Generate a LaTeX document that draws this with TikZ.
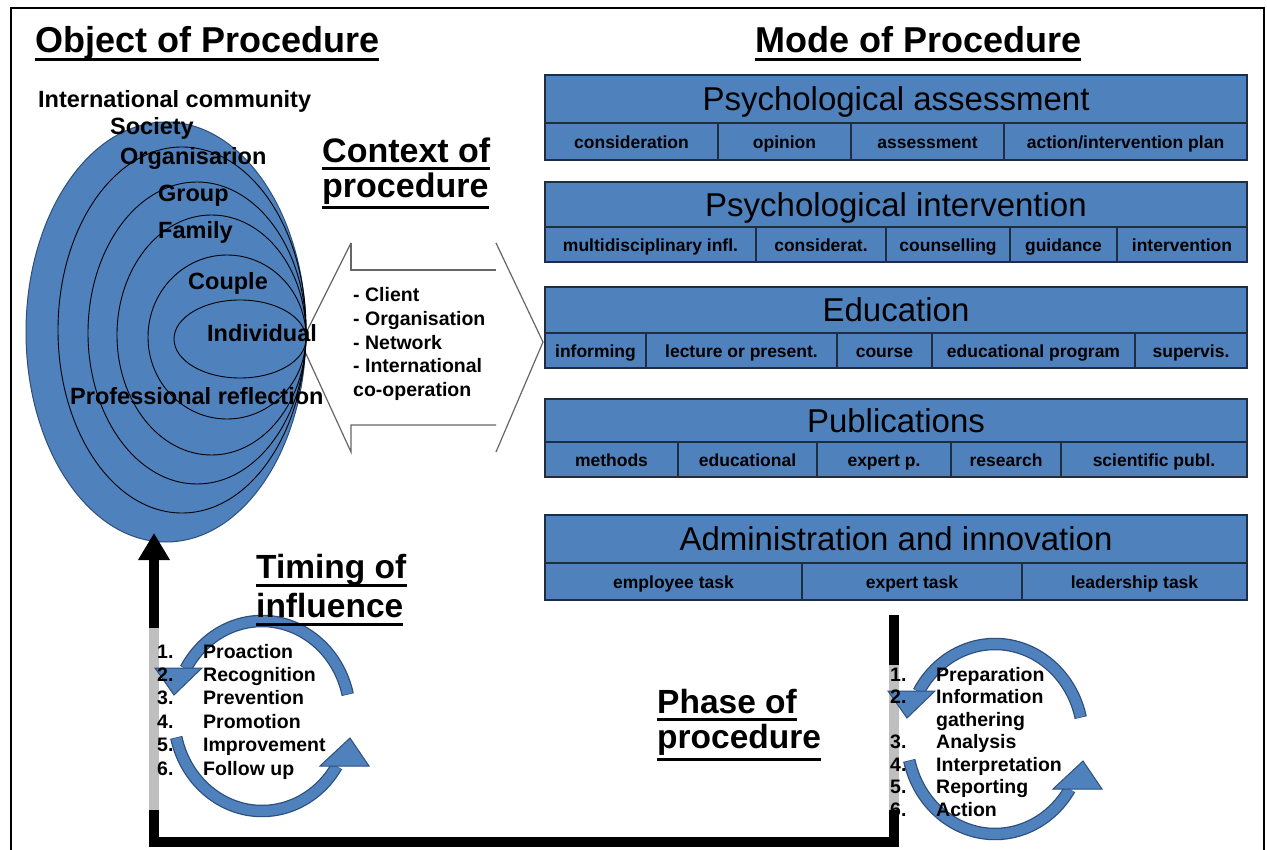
\documentclass[tikz,border=0pt]{standalone}
\usepackage{fontspec}
\setmainfont{Liberation Sans}
\usetikzlibrary{arrows.meta}
\definecolor{blu}{HTML}{4F81BD}
\definecolor{navy}{HTML}{1F2D40}
\definecolor{arcdark}{HTML}{2C4F7C}
\newcommand\cycarrow[2]{%
 \begin{scope}[shift={(#1,#2)}]
  \draw[line width=12.5pt, arcdark] (-13:88 and 95) arc[start angle=-13,end angle=-150.3,x radius=88,y radius=95];
  \draw[line width=10pt, blu] (-13.4:88 and 95) arc[start angle=-13.4,end angle=-150,x radius=88,y radius=95];
  \filldraw[fill=blu, draw=arcdark, line width=1pt] (-107,-48) -- (-60,-48) -- (-88,-21) -- cycle;
  \draw[line width=12.5pt, arcdark] (167:88 and 95) arc[start angle=167,end angle=31.8,x radius=88,y radius=95];
  \draw[line width=10pt, blu] (166.6:88 and 95) arc[start angle=166.6,end angle=32,x radius=88,y radius=95];
  \filldraw[fill=blu, draw=arcdark, line width=1pt] (58,50) -- (107,50) -- (88,22) -- cycle;
 \end{scope}}
\begin{document}
\begin{tikzpicture}[x=1pt,y=-1pt, line join=miter,
  ttl/.style={font=\fontsize{36}{40}\selectfont\bfseries, inner sep=0, anchor=base west},
  sub/.style={font=\fontsize{34}{38}\selectfont\bfseries, inner sep=0, anchor=base west},
  ul/.style={line width=3pt},
  lab/.style={font=\fontsize{23.5}{26}\selectfont\bfseries, inner sep=0, anchor=base west},
  lst/.style={font=\fontsize{19.5}{22}\selectfont\bfseries, inner sep=0, anchor=base west},
  hdr/.style={font=\fontsize{33}{38}\selectfont, inner sep=0, anchor=mid},
  cell/.style={font=\fontsize{17.5}{20}\selectfont\bfseries, inner sep=0, anchor=mid},
  blk/.style={fill=blu, draw=navy, line width=1.6pt},
  ring/.style={draw=black, line width=0.9pt},
  ctx/.style={draw=black!60, line width=1.2pt},
  conn/.style={line width=9.5pt, -{Triangle[width=30pt,length=27pt]}},
]
\useasboundingbox (0,0) rectangle (1267,850);
\fill[white] (0,0) rectangle (1267,850);
% frame
\draw[line width=2.5pt] (11,850) -- (11,8) -- (1264,8) -- (1264,850);

% context double arrow
\draw[ctx] (351,243) -- (351,270) -- (496,270);
\draw[ctx] (496,243) -- (543,342) -- (496,452);
\draw[ctx] (496,425) -- (351,425) -- (351,452) -- (301,343) -- (351,243);

% nested ellipses
\filldraw[fill=blu, draw=arcdark, line width=1pt] (166,332) ellipse [x radius=140, y radius=210];
\draw[ring] (182,330) ellipse [x radius=124, y radius=183];
\draw[ring] (197,333) ellipse [x radius=109, y radius=151];
\draw[ring] (211.5,335) ellipse [x radius=94.5, y radius=120];
\draw[ring] (227,337) ellipse [x radius=79, y radius=82];
\draw[ring] (240,339) ellipse [x radius=66, y radius=39];

\node[lab] (intl) at (38,108) {International community};
\node[lab] (soc) at (110,135) {Society};
\node[lab] (org) at (120,165) {Organisarion};
\node[lab] (grp) at (158,202) {Group};
\node[lab] (fam) at (158,239) {Family};
\node[lab] (cpl) at (188,290) {Couple};
\node[lab] (ind) at (207,342) {Individual};
\node[lab] (prof) at (70,405) {Professional reflection};

% context text
\node[sub] (cx1) at (322,163) {Context of};
\node[sub] (cx2) at (322,198) {procedure};
\draw[ul] ([yshift=-6pt]cx1.base west) -- ([yshift=-6pt]cx1.base east);
\draw[ul] ([yshift=-10pt]cx2.base west) -- ([yshift=-10pt]cx2.base east);
\node[lst] (c1) at (353,302) {- Client};
\node[lst] (c2) at (353,325.6) {- Organisation};
\node[lst] (c3) at (353,349.2) {- Network};
\node[lst] (c4) at (353,372.8) {- International};
\node[lst] (c5) at (353,396.4) {co-operation};

% titles
\node[ttl] (t1) at (35,53) {Object of Procedure};
\draw[ul] ([yshift=-7pt]t1.base west) -- ([yshift=-7pt]t1.base east);
\node[ttl] (t2) at (755,53) {Mode of Procedure};
\draw[ul] ([yshift=-7pt]t2.base west) -- ([yshift=-7pt]t2.base east);

% block 1
\draw[blk] (545,75) rectangle (1247,123);
\draw[blk] (545,123) rectangle (1247,160);
\draw[blk] (718,123) -- (718,160) (851,123) -- (851,160) (1004,123) -- (1004,160);
\node[hdr] (b1) at (896,108) {Psychological assessment};
\node[cell] (b1a) at (631.5,145.5) {consideration};
\node[cell] (b1b) at (784.5,145.5) {opinion};
\node[cell] (b1c) at (927.5,145.5) {assessment};
\node[cell] (b1d) at (1125.5,145.5) {action/intervention plan};
% block 2
\draw[blk] (545,182) rectangle (1247,227);
\draw[blk] (545,227) rectangle (1247,262);
\draw[blk] (756,227) -- (756,262) (886,227) -- (886,262) (1010,227) -- (1010,262) (1117,227) -- (1117,262);
\node[hdr] (b2) at (896,214) {Psychological intervention};
\node[cell] (b2a) at (650.5,248.5) {multidisciplinary infl.};
\node[cell] (b2b) at (821,248.5) {considerat.};
\node[cell] (b2c) at (948,248.5) {counselling};
\node[cell] (b2d) at (1063.5,248.5) {guidance};
\node[cell] (b2e) at (1182,248.5) {intervention};
% block 3
\draw[blk] (545,287) rectangle (1247,333);
\draw[blk] (545,333) rectangle (1247,368);
\draw[blk] (646,333) -- (646,368) (837,333) -- (837,368) (932,333) -- (932,368) (1135,333) -- (1135,368);
\node[hdr] (b3) at (896,319) {Education};
\node[cell] (b3a) at (595.5,354.5) {informing};
\node[cell] (b3b) at (741.5,354.5) {lecture or present.};
\node[cell] (b3c) at (884.5,354.5) {course};
\node[cell] (b3d) at (1033.5,354.5) {educational program};
\node[cell] (b3e) at (1191,354.5) {supervis.};
% block 4
\draw[blk] (545,399) rectangle (1247,442);
\draw[blk] (545,442) rectangle (1247,477);
\draw[blk] (678,442) -- (678,477) (817,442) -- (817,477) (951,442) -- (951,477) (1061,442) -- (1061,477);
\node[hdr] (b4) at (896,430) {Publications};
\node[cell] (b4a) at (611.5,463.5) {methods};
\node[cell] (b4b) at (747.5,463.5) {educational};
\node[cell] (b4c) at (884,463.5) {expert p.};
\node[cell] (b4d) at (1006,463.5) {research};
\node[cell] (b4e) at (1154,463.5) {scientific publ.};
% block 5
\draw[blk] (545,515) rectangle (1247,563);
\draw[blk] (545,563) rectangle (1247,600);
\draw[blk] (802,563) -- (802,600) (1022,563) -- (1022,600);
\node[hdr] (b5) at (896,548) {Administration and innovation};
\node[cell] (b5a) at (673.5,585.5) {employee task};
\node[cell] (b5b) at (912,585.5) {expert task};
\node[cell] (b5c) at (1134.5,585.5) {leadership task};

% connector from phase to object
\coordinate (phs) at (894,615);
\coordinate (objtip) at (154,533);
\draw[conn] (phs) -- (894,842) -- (154,842) -- (objtip);

% translucent list boxes
\fill[white, fill opacity=0.75] (146,628) rectangle (163,810);
\fill[white, fill opacity=0.75] (886,665) rectangle (903,810);

% circular arrows
\cycarrow{262}{716}
\cycarrow{995}{739}

% timing
\node[sub, font=\fontsize{33.5}{38}\selectfont\bfseries] (tm1) at (256,578) {Timing of};
\node[sub, font=\fontsize{33.5}{38}\selectfont\bfseries] (tm2) at (256,617) {influence};
\draw[ul] ([yshift=-7pt]tm1.base west) -- ([yshift=-7pt]tm1.base east);
\draw[ul] ([yshift=-7pt]tm2.base west) -- ([yshift=-7pt]tm2.base east);
\foreach \n/\t [count=\i] in {1/Proaction,2/Recognition,3/Prevention,4/Promotion,5/Improvement,6/Follow up}{
  \node[lst] (tn\i) at (157,{658+23.4*(\i-1)}) {\n.};
  \node[lst] (tt\i) at (203,{658+23.4*(\i-1)}) {\t};
}

% phase
\node[sub, font=\fontsize{33.5}{38}\selectfont\bfseries] (ph1) at (657,713) {Phase of};
\node[sub, font=\fontsize{33.5}{38}\selectfont\bfseries] (ph2) at (657,748) {procedure};
\draw[ul] ([yshift=-6pt]ph1.base west) -- ([yshift=-6pt]ph1.base east);
\draw[ul] ([yshift=-11pt]ph2.base west) -- ([yshift=-11pt]ph2.base east);
\node[lst] (pn1) at (890,681) {1.};
\node[lst] (pt1) at (936,681) {Preparation};
\node[lst] (pn2) at (890,703.5) {2.};
\node[lst] (pt2) at (936,703.5) {Information};
\node[lst] (pt2b) at (936,726) {gathering};
\node[lst] (pn3) at (890,748.5) {3.};
\node[lst] (pt3) at (936,748.5) {Analysis};
\node[lst] (pn4) at (890,771) {4.};
\node[lst] (pt4) at (936,771) {Interpretation};
\node[lst] (pn5) at (890,793.5) {5.};
\node[lst] (pt5) at (936,793.5) {Reporting};
\node[lst] (pn6) at (890,816) {6.};
\node[lst] (pt6) at (936,816) {Action};
\end{tikzpicture}
\end{document}
